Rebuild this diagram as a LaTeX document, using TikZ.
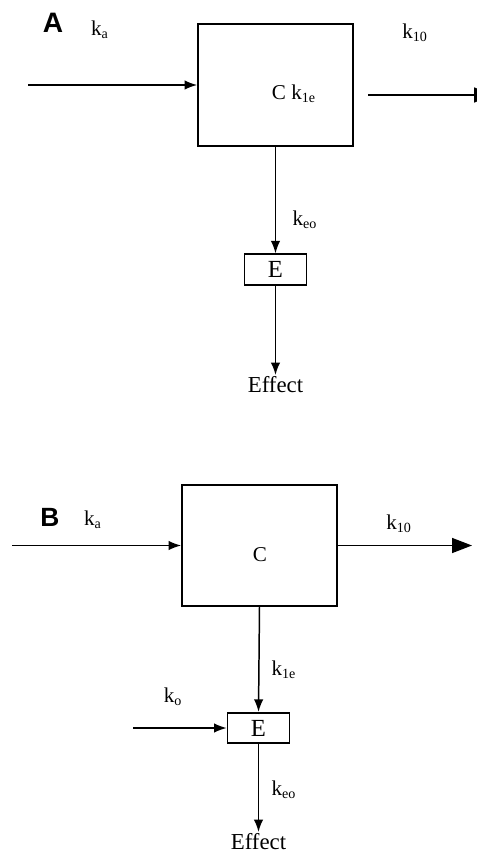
\documentclass[tikz,border=0pt]{standalone}
\usepackage{fontspec}
\setmainfont{Liberation Serif}
\setsansfont{Liberation Sans}
\usetikzlibrary{arrows.meta,positioning}
\tikzset{
  compbox/.style={
    draw,
    line width=1pt,
    inner sep=0pt,
    minimum width=3.1cm,
    minimum height=2.43cm
  },
  effbox/.style={
    draw,
    line width=1pt,
    inner sep=0pt,
    minimum width=1.24cm,
    minimum height=0.61cm,
    font=\fontsize{14}{16}\selectfont
  },
  ratelabel/.style={font=\fontsize{12}{14}\selectfont, inner sep=1pt},
  panellabel/.style={font=\sffamily\bfseries\fontsize{15}{17}\selectfont, inner sep=1pt},
  effectlabel/.style={font=\fontsize{13}{15}\selectfont, inner sep=0.5pt},
  flowarrow/.style={-{Latex[length=2.5mm,width=1.9mm]}, line width=0.85pt},
  outarrow/.style={-{Triangle[length=4mm,width=3mm]}, line width=0.85pt}
}

\begin{document}
\begin{tikzpicture}[x=0.02cm, y=-0.02cm]
\useasboundingbox (0,0) rectangle (477,856);

% panel A
\node[panellabel, font=\sffamily\bfseries\fontsize{16}{18}\selectfont] (labA) at (53,23) {A};
\node[ratelabel] (kaA) at (100,30) {k\textsubscript{a}};
\node[compbox] (boxA) at (275.5,85) {};
\node[ratelabel] (cA) at (294,94) {C k\textsubscript{1e}};
\node[ratelabel] (k10A) at (415,33) {k\textsubscript{10}};
\node[effbox] (eA) at (275.5,269.5) {E};
\node[ratelabel] (keoA) at (305,220) {k\textsubscript{eo}};
\node[effectlabel, anchor=north] (effA) at (275.5,375) {Effect};
\coordinate (inA) at (28,85);
\coordinate (outAs) at (368,95);
\coordinate (outAe) at (494,95);

\draw[flowarrow] (inA) -- (boxA.west);
\draw[outarrow] (outAs) -- (outAe);
\draw[flowarrow] (boxA.south) -- (eA.north);
\draw[flowarrow] (eA.south) -- (effA.north);

% panel B
\node[panellabel] (labB) at (50,517) {B};
\node[ratelabel] (kaB) at (93,520) {k\textsubscript{a}};
\node[compbox] (boxB) at (259.5,545.5) {};
\node[ratelabel] (cB) at (260,555) {C};
\node[ratelabel] (k10B) at (399,524) {k\textsubscript{10}};
\node[effbox] (eB) at (258.5,728) {E};
\node[ratelabel] (k1eB) at (284,670) {k\textsubscript{1e}};
\node[ratelabel] (koB) at (173,697) {k\textsubscript{o}};
\node[ratelabel] (keoB) at (284,790) {k\textsubscript{eo}};
\node[effectlabel, anchor=north] (effB) at (258.5,832) {Effect};
\coordinate (inB) at (12,545.5);
\coordinate (outBe) at (472,545.5);
\coordinate (inE) at (133,728);

\draw[flowarrow] (inB) -- (boxB.west);
\draw[outarrow] (boxB.east) -- (outBe);
\draw[flowarrow] (boxB.south) -- (eB.north);
\draw[flowarrow] (inE) -- (eB.west);
\draw[flowarrow] (eB.south) -- (effB.north);
\end{tikzpicture}
\end{document}
